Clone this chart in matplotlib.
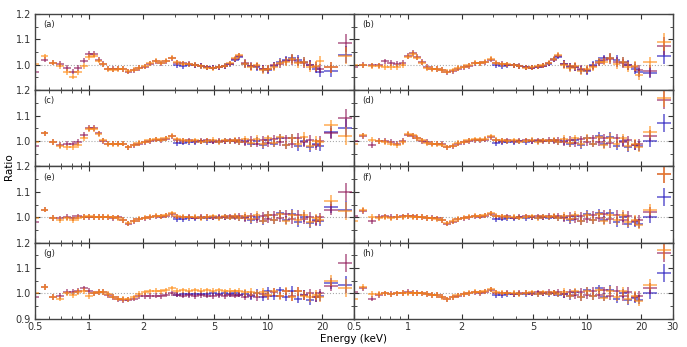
import numpy as np
import matplotlib
matplotlib.use("Agg")
import matplotlib.pyplot as plt
from matplotlib.ticker import NullFormatter, FixedLocator, LogLocator

# --- Data: energy grid (keV); last three entries are the wide high-energy bins ---
energy = [0.50, 0.565, 0.63, 0.69, 0.75, 0.81, 0.87, 0.935, 1.00, 1.065,
          1.13, 1.20, 1.28, 1.36, 1.45, 1.55, 1.66, 1.78, 1.91, 2.05,
          2.2, 2.36, 2.53, 2.7, 2.9, 3.1, 3.35, 3.6, 3.9, 4.2,
          4.55, 4.9, 5.3, 5.7, 6.1, 6.5, 6.9, 7.4, 8.0, 8.6,
          9.3, 10.0, 10.8, 11.6, 12.5, 13.5, 14.6, 15.8, 17.0, 18.4,
          19.5, 22.4, 27.0]
hi_lo = [18.5, 20.5, 24.5]
hi_hi = [20.5, 24.5, 29.5]
blue_start = 25  # blue data begin at 3.1 keV

yerr_main = [0.011] * 16 + [0.010] * 9 + [0.010] * 12 + [0.015] * 8 + [0.019] * 5 + [0.018, 0.022, 0.035]

# panel (a)
a_purple = [0.973, 1.020, 1.008, 1.003, 0.987, 0.973, 0.987, 1.016, 1.043, 1.043, 1.020, 1.003, 0.985, 0.983, 0.985, 0.983, 0.973, 0.979, 0.987, 0.992, 1.003, 1.013, 1.005, 1.013, 1.025, 1.007, 1.006, 1.003, 0.999, 0.996, 0.990, 0.988, 0.990, 0.994, 1.003, 1.022, 1.035, 1.006, 0.995, 0.993, 0.985, 0.982, 0.997, 1.004, 1.014, 1.018, 1.012, 1.005, 0.998, 0.990, 0.985, 0.990, 1.085]
a_orange = [1.003, 1.033, 1.008, 0.996, 0.972, 0.953, 0.970, 0.996, 1.030, 1.036, 1.016, 1.001, 0.983, 0.981, 0.984, 0.984, 0.975, 0.980, 0.989, 0.994, 1.005, 1.015, 1.007, 1.016, 1.028, 1.010, 1.004, 1.001, 1.000, 0.994, 0.988, 0.986, 0.992, 0.996, 1.006, 1.025, 1.038, 1.004, 0.990, 0.997, 0.978, 0.985, 0.990, 1.008, 1.010, 1.022, 1.006, 1.010, 0.992, 0.995, 1.016, 0.990, 1.036]
a_blue = [0.998, 0.995, 1.000, 0.998, 0.995, 0.990, 0.988, 0.991, 0.995, 1.002, 1.020, 1.030, 1.004, 0.993, 0.990, 0.982, 0.978, 0.995, 1.012, 1.020, 1.025, 1.018, 1.012, 1.000, 0.985, 0.970, 0.975, 1.040]

# panel (b)
b_purple = [0.990, 0.998, 0.997, 0.997, 1.013, 1.006, 1.003, 1.007, 1.035, 1.045, 1.030, 1.010, 0.990, 0.985, 0.983, 0.980, 0.970, 0.975, 0.985, 0.990, 0.995, 1.005, 1.005, 1.010, 1.020, 1.005, 1.004, 1.000, 0.998, 0.995, 0.990, 0.989, 0.992, 0.996, 1.005, 1.020, 1.036, 1.004, 0.993, 0.990, 0.985, 0.980, 0.995, 1.008, 1.018, 1.022, 1.010, 1.005, 0.997, 0.990, 0.980, 0.975, 1.075]
b_orange = [1.000, 0.997, 0.996, 0.995, 0.992, 0.990, 0.990, 1.000, 1.032, 1.042, 1.028, 1.008, 0.988, 0.984, 0.982, 0.979, 0.972, 0.978, 0.987, 0.992, 0.998, 1.008, 1.006, 1.012, 1.024, 1.008, 1.002, 1.001, 0.997, 0.993, 0.988, 0.990, 0.994, 0.998, 1.008, 1.024, 1.040, 1.000, 0.988, 0.994, 0.976, 0.983, 0.990, 1.012, 1.012, 1.026, 1.004, 1.010, 0.990, 0.996, 0.958, 1.010, 1.088]
b_blue = [0.998, 0.994, 0.998, 0.997, 0.994, 0.990, 0.988, 0.992, 0.996, 1.004, 1.022, 1.032, 1.002, 0.990, 0.992, 0.980, 0.976, 0.998, 1.015, 1.025, 1.028, 1.018, 1.010, 0.998, 0.982, 0.970, 0.968, 1.036]

# panel (c)
c_purple = [0.980, 1.030, 0.995, 0.985, 0.990, 0.990, 0.995, 1.023, 1.050, 1.050, 1.030, 1.000, 0.990, 0.990, 0.990, 0.990, 0.975, 0.983, 0.990, 0.995, 1.000, 1.005, 1.002, 1.008, 1.018, 1.003, 1.000, 1.002, 0.998, 1.000, 1.003, 0.997, 1.001, 0.999, 1.002, 1.000, 1.004, 0.995, 1.003, 0.990, 1.005, 0.993, 1.008, 0.995, 1.010, 0.990, 1.012, 0.996, 1.005, 0.985, 1.000, 1.030, 1.090]
c_orange = [0.995, 1.030, 0.995, 0.980, 0.975, 0.975, 0.985, 1.010, 1.048, 1.048, 1.028, 1.002, 0.988, 0.988, 0.989, 0.990, 0.976, 0.985, 0.992, 0.997, 1.002, 1.007, 1.004, 1.010, 1.020, 1.006, 1.002, 0.999, 1.002, 0.997, 1.000, 1.004, 0.996, 1.003, 0.998, 1.004, 0.996, 1.006, 0.992, 1.008, 0.988, 1.010, 0.992, 1.014, 0.985, 1.010, 0.990, 1.015, 0.982, 1.000, 0.995, 1.062, 1.020]
c_blue = [0.992, 0.993, 0.996, 0.995, 0.998, 0.996, 0.999, 0.997, 1.000, 0.998, 1.001, 0.995, 0.998, 0.990, 1.000, 0.985, 1.005, 0.990, 1.012, 0.985, 1.010, 0.980, 1.000, 0.975, 0.990, 0.980, 1.035, 1.050]

# panel (d)
d_purple = [1.000, 1.020, 0.985, 1.000, 1.000, 0.995, 0.990, 1.000, 1.025, 1.020, 1.010, 1.000, 0.995, 0.990, 0.990, 0.988, 0.975, 0.980, 0.990, 0.995, 1.000, 1.003, 1.002, 1.005, 1.015, 1.003, 1.000, 1.002, 0.998, 1.001, 1.003, 0.998, 1.002, 0.999, 1.004, 1.000, 1.005, 0.996, 1.004, 0.992, 1.006, 0.994, 1.010, 0.996, 1.012, 0.992, 1.010, 0.994, 1.002, 0.985, 0.990, 1.020, 1.160]
d_orange = [0.990, 1.022, 1.005, 0.998, 0.995, 0.990, 0.985, 0.995, 1.028, 1.022, 1.012, 1.002, 0.993, 0.988, 0.988, 0.986, 0.975, 0.982, 0.992, 0.997, 1.002, 1.006, 1.004, 1.008, 1.018, 1.005, 1.002, 0.999, 1.002, 0.997, 1.001, 1.004, 0.996, 1.003, 0.998, 1.005, 0.996, 1.007, 0.993, 1.010, 0.987, 1.012, 0.990, 1.014, 0.984, 1.012, 0.990, 1.010, 0.980, 0.990, 0.975, 1.035, 1.170]
d_blue = [0.992, 0.994, 0.997, 0.995, 0.999, 0.996, 1.000, 0.998, 1.001, 0.998, 1.002, 0.995, 0.999, 0.990, 1.002, 0.985, 1.010, 0.990, 1.020, 0.988, 1.015, 0.982, 1.000, 0.976, 0.985, 0.980, 1.000, 1.070]

# panel (e)
e_purple = [0.980, 1.030, 0.998, 0.995, 1.000, 0.996, 1.003, 1.000, 1.002, 1.000, 1.001, 1.000, 0.999, 0.998, 0.999, 0.990, 0.975, 0.985, 0.992, 0.996, 1.000, 1.004, 1.002, 1.006, 1.012, 1.002, 1.000, 1.002, 0.998, 1.001, 1.002, 0.998, 1.002, 0.999, 1.003, 1.000, 1.005, 0.996, 1.003, 0.992, 1.006, 0.994, 1.010, 0.996, 1.012, 0.992, 1.010, 0.994, 1.002, 0.985, 1.000, 1.030, 1.100]
e_orange = [0.995, 1.030, 0.998, 0.990, 0.995, 0.990, 0.998, 1.000, 1.003, 1.002, 1.000, 1.002, 1.000, 0.999, 0.998, 0.988, 0.976, 0.986, 0.993, 0.998, 1.002, 1.006, 1.004, 1.008, 1.015, 1.004, 1.002, 0.999, 1.002, 0.997, 1.001, 1.003, 0.996, 1.003, 0.998, 1.005, 0.996, 1.006, 0.993, 1.008, 0.987, 1.010, 0.990, 1.012, 0.985, 1.010, 0.990, 1.010, 0.982, 0.995, 0.990, 1.065, 1.025]
e_blue = [0.992, 0.993, 0.997, 0.996, 0.998, 0.996, 1.000, 0.998, 1.001, 0.998, 1.002, 0.995, 0.999, 0.990, 1.002, 0.986, 1.008, 0.990, 1.015, 0.988, 1.012, 0.980, 1.000, 0.978, 0.988, 0.985, 1.040, 1.030]

# panel (f)
f_purple = [1.005, 1.025, 0.985, 1.000, 1.003, 1.000, 1.002, 1.003, 1.004, 1.003, 1.002, 1.000, 0.998, 0.996, 0.995, 0.990, 0.975, 0.983, 0.992, 0.996, 1.000, 1.004, 1.002, 1.006, 1.014, 1.003, 1.001, 1.003, 0.998, 1.002, 1.003, 0.999, 1.004, 1.000, 1.006, 1.002, 1.006, 0.997, 1.004, 0.994, 1.006, 0.994, 1.010, 0.995, 1.012, 0.992, 1.010, 0.990, 1.005, 0.985, 0.990, 1.020, 1.170]
f_orange = [0.985, 1.028, 1.000, 0.998, 1.000, 0.995, 1.000, 1.002, 1.003, 1.002, 1.000, 1.000, 0.997, 0.995, 0.993, 0.988, 0.976, 0.985, 0.993, 0.998, 1.002, 1.006, 1.004, 1.008, 1.016, 1.005, 1.003, 1.000, 1.002, 0.998, 1.002, 1.004, 0.997, 1.004, 0.999, 1.005, 0.996, 1.006, 0.992, 1.008, 0.986, 1.010, 0.990, 1.012, 0.984, 1.010, 0.988, 1.008, 0.980, 0.990, 0.970, 1.030, 1.170]
f_blue = [0.992, 0.994, 0.997, 0.996, 0.999, 0.996, 1.000, 0.998, 1.001, 0.998, 1.002, 0.995, 0.999, 0.990, 1.003, 0.986, 1.012, 0.990, 1.018, 0.988, 1.015, 0.980, 1.000, 0.975, 0.982, 0.975, 1.000, 1.080]

# panel (g)
g_purple = [0.985, 1.025, 0.985, 0.990, 1.005, 1.005, 1.010, 1.020, 1.010, 1.000, 1.005, 1.005, 0.995, 0.985, 0.978, 0.975, 0.975, 0.980, 0.990, 0.990, 0.990, 0.992, 0.990, 0.995, 1.000, 0.995, 0.992, 0.994, 0.990, 0.993, 0.992, 0.990, 0.993, 0.990, 0.995, 0.992, 0.995, 0.988, 0.995, 0.985, 0.998, 0.990, 1.005, 0.992, 1.008, 0.990, 1.008, 0.994, 1.000, 0.985, 1.000, 1.030, 1.120]
g_orange = [1.000, 1.025, 0.985, 0.980, 1.000, 0.995, 1.005, 1.010, 0.990, 1.000, 1.005, 1.005, 0.998, 0.988, 0.980, 0.978, 0.977, 0.985, 0.998, 1.005, 1.008, 1.010, 1.008, 1.012, 1.020, 1.010, 1.012, 1.010, 1.012, 1.010, 1.013, 1.010, 1.012, 1.008, 1.010, 1.008, 1.010, 1.004, 1.006, 1.000, 1.005, 0.995, 1.008, 0.990, 1.010, 0.988, 1.008, 0.992, 0.985, 0.995, 0.985, 1.050, 1.020]
g_blue = [0.995, 0.996, 0.998, 0.996, 0.999, 0.997, 1.000, 0.998, 1.001, 0.998, 1.002, 0.995, 0.999, 0.990, 1.002, 0.986, 1.010, 0.990, 1.012, 0.985, 1.010, 0.980, 0.995, 0.975, 0.985, 0.990, 1.040, 1.035]

# panel (h)
h_purple = [1.005, 1.020, 0.980, 0.995, 1.000, 0.998, 1.000, 1.003, 1.005, 1.002, 1.003, 1.000, 0.998, 0.995, 0.995, 0.988, 0.978, 0.985, 0.992, 0.996, 1.000, 1.004, 1.002, 1.006, 1.014, 1.003, 1.001, 1.003, 0.998, 1.002, 1.003, 0.999, 1.004, 1.000, 1.006, 1.002, 1.006, 0.997, 1.004, 0.994, 1.006, 0.994, 1.010, 0.995, 1.012, 0.992, 1.010, 0.990, 1.005, 0.985, 0.990, 1.020, 1.160]
h_orange = [0.980, 1.025, 0.998, 0.998, 1.000, 0.996, 1.000, 1.002, 1.003, 1.002, 1.000, 1.000, 0.997, 0.994, 0.993, 0.987, 0.978, 0.986, 0.993, 0.998, 1.002, 1.006, 1.004, 1.008, 1.016, 1.005, 1.003, 1.000, 1.002, 0.998, 1.002, 1.004, 0.997, 1.004, 0.999, 1.005, 0.996, 1.006, 0.992, 1.008, 0.986, 1.010, 0.990, 1.012, 0.984, 1.010, 0.988, 1.008, 0.978, 0.990, 0.970, 1.035, 1.170]
h_blue = [0.993, 0.994, 0.998, 0.996, 0.999, 0.997, 1.000, 0.998, 1.001, 0.997, 1.003, 0.995, 0.999, 0.990, 1.004, 0.985, 1.012, 0.990, 1.020, 0.986, 1.015, 0.980, 1.000, 0.974, 0.982, 0.975, 1.000, 1.080]

panel_labels = ['(a)', '(b)', '(c)', '(d)', '(e)', '(f)', '(g)', '(h)']
panels = [(a_blue, a_purple, a_orange), (b_blue, b_purple, b_orange),
          (c_blue, c_purple, c_orange), (d_blue, d_purple, d_orange),
          (e_blue, e_purple, e_orange), (f_blue, f_purple, f_orange),
          (g_blue, g_purple, g_orange), (h_blue, h_purple, h_orange)]

BLUE = '#2a1fc0'
PURPLE = '#8e1656'
ORANGE = '#ff8a10'

# --- error bar geometry ---
E = np.array(energy)
fac = 10 ** 0.022
xlo = E - E / fac
xhi = E * fac - E
xlo[-3:] = E[-3:] - np.array(hi_lo)
xhi[-3:] = np.array(hi_hi) - E[-3:]
yerr = np.array(yerr_main)

fig, axes = plt.subplots(4, 2, figsize=(6.87, 3.47), dpi=100)
fig.subplots_adjust(left=0.051, right=0.979, top=0.96, bottom=0.081, hspace=0, wspace=0)

for i, ax in enumerate(axes.flat):
    row, col = divmod(i, 2)
    blue, purple, orange = panels[i]
    ax.axhline(1.0, color='#aaaaaa', ls=':', lw=0.8, zorder=0)
    sl = slice(blue_start, None)
    ax.errorbar(E[sl], blue, xerr=[xlo[sl], xhi[sl]], yerr=yerr[sl],
                fmt='none', ecolor=BLUE, elinewidth=1.1, alpha=0.75)
    ax.errorbar(E, purple, xerr=[xlo, xhi], yerr=yerr,
                fmt='none', ecolor=PURPLE, elinewidth=1.3, alpha=0.6)
    ax.errorbar(E, orange, xerr=[xlo, xhi], yerr=yerr,
                fmt='none', ecolor=ORANGE, elinewidth=1.3, alpha=0.6)

    ax.set_xscale('log')
    ax.set_xlim(0.5, 30)
    ax.set_ylim(0.9, 1.2)
    if col == 0:
        xt = [0.5, 1, 2, 5, 10, 20]
    else:
        xt = [0.5, 1, 2, 5, 10, 20, 30]
    ax.xaxis.set_major_locator(FixedLocator(xt))
    ax.xaxis.set_minor_locator(LogLocator(base=10, subs=np.arange(1, 10), numticks=20))
    ax.xaxis.set_minor_formatter(NullFormatter())
    if row == 3:
        ax.set_xticklabels([('%g' % v) for v in xt])
    else:
        ax.set_xticklabels([])

    ax.set_yticks([0.9, 1.0, 1.1, 1.2])
    ax.set_yticks([0.95, 1.05, 1.15], minor=True)
    if col == 0:
        if row == 3:
            ax.set_yticklabels(['0.9', '1.0', '1.1', '1.2'])
        else:
            ax.set_yticklabels(['', '1.0', '1.1', '1.2'])
    else:
        ax.set_yticklabels([])

    ax.tick_params(which='both', direction='in', top=True, right=True,
                   labelsize=7, colors='#333333')
    ax.tick_params(axis='y', pad=3)
    ax.tick_params(axis='x', pad=2)
    ax.tick_params(which='major', length=3.5, width=0.8)
    ax.tick_params(which='minor', length=2, width=0.6)
    for s in ax.spines.values():
        s.set_color('#444444')
        s.set_linewidth(1.0)
    ax.text(0.025, 0.86, panel_labels[i], transform=ax.transAxes,
            fontsize=6, va='center', ha='left', color='#222222')

fig.text(0.013, 0.52, 'Ratio', rotation=90, va='center', ha='center', fontsize=7.5)
fig.text(0.514, 0.022, 'Energy (keV)', va='center', ha='center', fontsize=7.5)

fig.savefig('out.png', dpi=100)
